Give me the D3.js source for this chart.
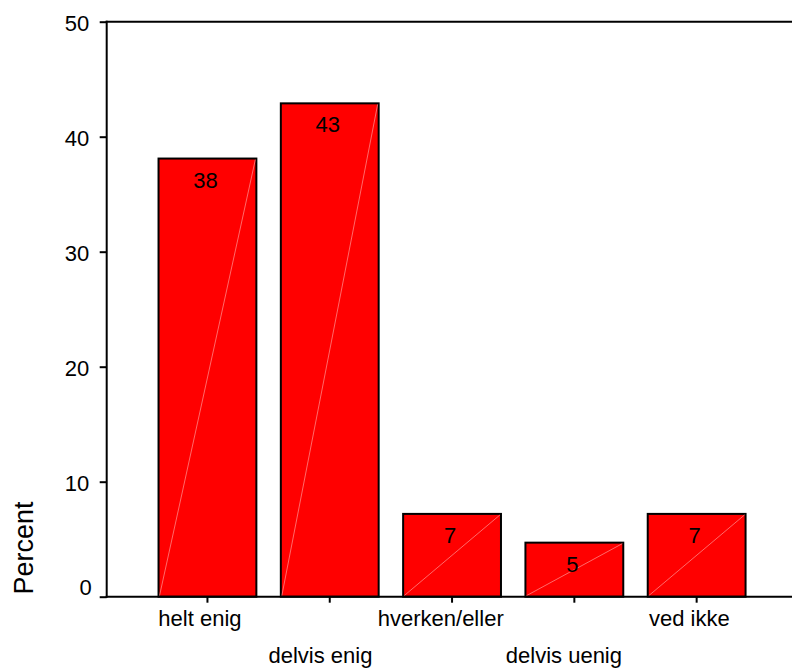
<!DOCTYPE html>
<html><head><meta charset="utf-8">
<script src="https://cdn.jsdelivr.net/npm/d3@7"></script>
<style>body{margin:0;background:#fff}svg{display:block}text{font-family:"Liberation Sans",Arial,sans-serif;fill:#000}</style>
</head><body><svg id="c" width="792" height="669"></svg>
<script>
const categories = ["helt enig","delvis enig","hverken/eller","delvis uenig","ved ikke"];
const percents = [38.1, 42.9, 7.2, 4.7, 7.2];
const barLabels = ["38","43","7","5","7"];
const yTicks = [0,10,20,30,40,50];

const svg = d3.select("#c");
const pLeft = 106.7, pRight = 792, pTop = 21.7, pBottom = 596.7;
const x = d3.scaleBand().domain(categories).range([146.3, 757.8]).paddingInner(0.2).paddingOuter(0.1);
const y = d3.scaleLinear().domain([0,50]).range([pBottom, pTop]);

// bars
const g = svg.append("g");
categories.forEach((c,i)=>{
  const x0 = x(c), w = x.bandwidth(), y0 = y(percents[i]);
  g.append("rect").attr("x",x0).attr("y",y0).attr("width",w).attr("height",pBottom-y0)
    .attr("fill","#ff0000").attr("stroke","#000").attr("stroke-width",2);
  g.append("line").attr("x1",x0+1).attr("y1",pBottom-1).attr("x2",x0+w-1).attr("y2",y0+1)
    .attr("stroke","#ffb0b0").attr("stroke-width",0.6);
  g.append("text").attr("x",x0+w/2-2).attr("y",y0+29).attr("text-anchor","middle")
    .attr("font-size",22).text(barLabels[i]);
});

// y axis
const ya = svg.append("g").attr("transform",`translate(${pLeft},0)`)
  .call(d3.axisLeft(y).tickValues(yTicks).tickSize(7).tickPadding(10.5).tickFormat(d3.format("d")));
ya.select(".domain").remove();
ya.selectAll("line").attr("stroke","#000").attr("stroke-width",2);
ya.selectAll("text").attr("font-size",22).attr("fill","#000")
  .attr("dy",d=> d===0 ? "-0.12em" : "0.4em")
  .attr("dx",d=> d===0 ? 2.5 : 0);
svg.append("line").attr("x1",pLeft).attr("x2",pLeft).attr("y1",pTop-1).attr("y2",pBottom+1).attr("stroke","#000").attr("stroke-width",2);
svg.append("line").attr("x1",pLeft-1).attr("x2",pRight).attr("y1",pTop).attr("y2",pTop).attr("stroke","#000").attr("stroke-width",2);

// x axis
const xa = svg.append("g").attr("transform",`translate(0,${pBottom})`)
  .call(d3.axisBottom(x).tickSize(6).tickPadding(0));
xa.select(".domain").remove();
xa.selectAll("line").attr("stroke","#000").attr("stroke-width",2);
xa.selectAll("text").attr("font-size",22).attr("fill","#000")
  .attr("dy",null)
  .attr("y",(d,i)=> i%2 ? 66.5 : 29.5)
  .attr("dx",function(){ return -0.09*this.getComputedTextLength(); });
svg.append("line").attr("x1",pLeft-1).attr("x2",pRight).attr("y1",pBottom).attr("y2",pBottom).attr("stroke","#000").attr("stroke-width",2);

// y label
svg.append("text").attr("transform","translate(33,548) rotate(-90)").attr("text-anchor","middle")
  .attr("font-size",27).text("Percent");
</script></body></html>
